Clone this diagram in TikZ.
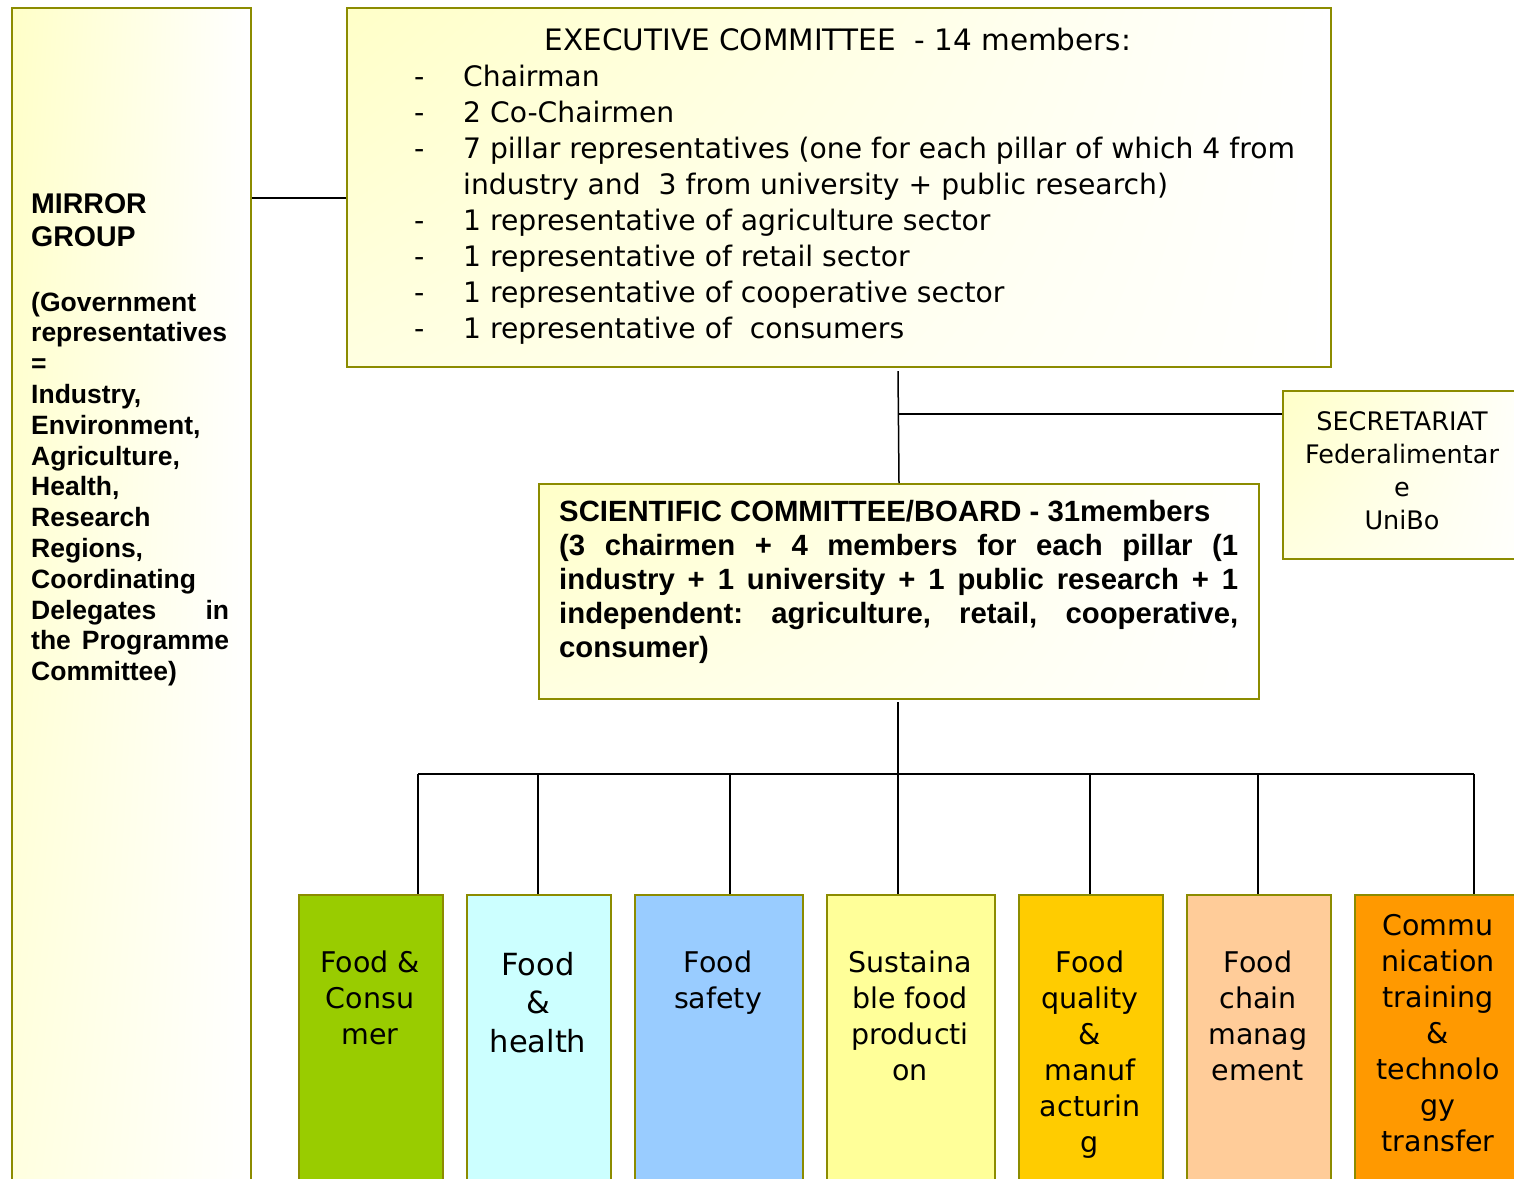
\documentclass[tikz,border=0pt]{standalone}
\usepackage{fontspec}
\usetikzlibrary{shadings}
\setmainfont{DejaVu Sans}
\newfontfamily\arialfont{Liberation Sans}
\frenchspacing
\definecolor{olivebd}{RGB}{140,140,0}
\definecolor{paleyel}{RGB}{255,255,200}
\definecolor{pillarA}{HTML}{99CC00}
\definecolor{pillarB}{HTML}{CCFFFF}
\definecolor{pillarC}{HTML}{99CCFF}
\definecolor{pillarD}{HTML}{FFFF99}
\definecolor{pillarE}{HTML}{FFCC00}
\definecolor{pillarF}{HTML}{FFCC99}
\definecolor{pillarG}{HTML}{FF9900}
\begin{document}
% text nodes are placed by the baseline of their last line
\begin{tikzpicture}[x=1pt,y=-1pt,
  box/.style={draw=olivebd, line width=2pt, rectangle, inner sep=0pt, anchor=north west},
  glow/.style={upper left=paleyel, lower left=paleyel!55, upper right=white, lower right=white},
  pillar/.style={box, minimum height=330pt},
  link/.style={draw=black, line width=1.5pt},
  ptext/.style={inner sep=0pt, anchor=base, align=center, text=black,
    font=\fontsize{28.5}{36}\selectfont},
  boldtext/.style={inner sep=0pt, anchor=base west, align=left, text=black}
]
\path[use as bounding box, clip] (0,0) rectangle (1514,1178);

% mirror group column
\node[box, glow, minimum width=239pt, minimum height=1220pt] (mirror) at (11,7) {};
\node[boldtext, font=\arialfont\bfseries\fontsize{28.5}{33}\selectfont] (mtitle) at (31,246) {MIRROR\\GROUP};
\node[boldtext, font=\arialfont\bfseries\fontsize{26.5}{30.8}\selectfont] (mbody) at (31,680.6)
  {(Government\\representatives\\=\\Industry,\\Environment,\\Agriculture,\\Health,\\Research\\Regions,\\Coordinating\\
   \makebox[198pt][s]{Delegates in}\\\makebox[198pt][s]{the Programme}\\Committee)};

% executive committee
\node[box, glow, minimum width=984pt, minimum height=359pt] (exec) at (346,7) {};
\node[ptext, font=\fontsize{29.5}{36}\selectfont] (etitle) at (838,50) {EXECUTIVE COMMITTEE\ \ - 14 members:};
\node[ptext] (edash) at (420,338) {-\\-\\-\\\mbox{}\\-\\-\\-\\-};
\node[ptext, anchor=base west, align=left, font=\fontsize{28.2}{36}\selectfont] (eitems) at (463,338)
  {Chairman\\2 Co-Chairmen\\7 pillar representatives (one for each pillar of which 4 from\\
   industry and\ \ 3 from university + public research)\\1 representative of agriculture sector\\
   1 representative of retail sector\\1 representative of cooperative sector\\1 representative of\ \ consumers};

% secretariat
\node[box, glow, minimum width=260pt, minimum height=168pt] (sec) at (1282,390) {};
\node[ptext, font=\fontsize{25.5}{33}\selectfont] (stext) at (1402,529) {SECRETARIAT\\Federalimentar\\e\\UniBo};

% scientific committee
\node[box, glow, minimum width=720pt, minimum height=215pt] (sci) at (538,483) {};
\node[boldtext, font=\arialfont\bfseries\fontsize{29.3}{34}\selectfont] (scitext) at (559,657)
  {SCIENTIFIC COMMITTEE/BOARD - 31members\\
   \makebox[679pt][s]{(3 chairmen + 4 members for each pillar (1}\\
   \makebox[679pt][s]{industry + 1 university + 1 public research + 1}\\
   \makebox[679pt][s]{independent: agriculture, retail, cooperative,}\\
   consumer)};

% pillars
\node[pillar, fill=pillarA, minimum width=144pt] (p1) at (298,894) {};
\node[pillar, fill=pillarB, minimum width=144pt] (p2) at (466,894) {};
\node[pillar, fill=pillarC, minimum width=168pt] (p3) at (634,894) {};
\node[pillar, fill=pillarD, minimum width=168pt] (p4) at (826,894) {};
\node[pillar, fill=pillarE, minimum width=144pt] (p5) at (1018,894) {};
\node[pillar, fill=pillarF, minimum width=144pt] (p6) at (1186,894) {};
\node[pillar, fill=pillarG, minimum width=168pt] (p7) at (1354,894) {};

\node[ptext] (t1) at (370,1044) {Food \&\\Consu\\mer};
\node[ptext, font=\fontsize{30.5}{38.5}\selectfont] (t2) at (538,1052) {Food\\\&\\health};
\node[ptext] (t3) at (718,1008) {Food\\safety};
\node[ptext] (t4) at (910,1080) {Sustaina\\ble food\\producti\\on};
\node[ptext] (t5) at (1090,1152) {Food\\quality\\\&\\manuf\\acturin\\g};
\node[ptext] (t6) at (1258,1080) {Food\\chain\\manag\\ement};
\node[ptext] (t7) at (1438,1151) {Commu\\nication\\training\\\&\\technolo\\gy\\transfer};

% connectors
\coordinate (mj) at (250,198);
\draw[link] (mirror.east |- mj) -- (exec.west |- mj);
\coordinate (ej) at (898,371);
\draw[link] (ej) -- (sci.north);
\coordinate (sj) at (898,414);
\draw[link] (sj) -- (sec.west |- sj);
\coordinate (sb) at (898,702);
\coordinate (d1) at (418,774);
\coordinate (d2) at (538,774);
\coordinate (d3) at (730,774);
\coordinate (d4) at (898,774);
\coordinate (d5) at (1090,774);
\coordinate (d6) at (1258,774);
\coordinate (d7) at (1474,774);
\draw[link] (sb) -- (d4 |- p4.north);
\draw[link] (d1) -- (d7);
\draw[link] (d1) -- (d1 |- p1.north);
\draw[link] (d2) -- (d2 |- p2.north);
\draw[link] (d3) -- (d3 |- p3.north);
\draw[link] (d5) -- (d5 |- p5.north);
\draw[link] (d6) -- (d6 |- p6.north);
\draw[link] (d7) -- (d7 |- p7.north);
\end{tikzpicture}
\end{document}
